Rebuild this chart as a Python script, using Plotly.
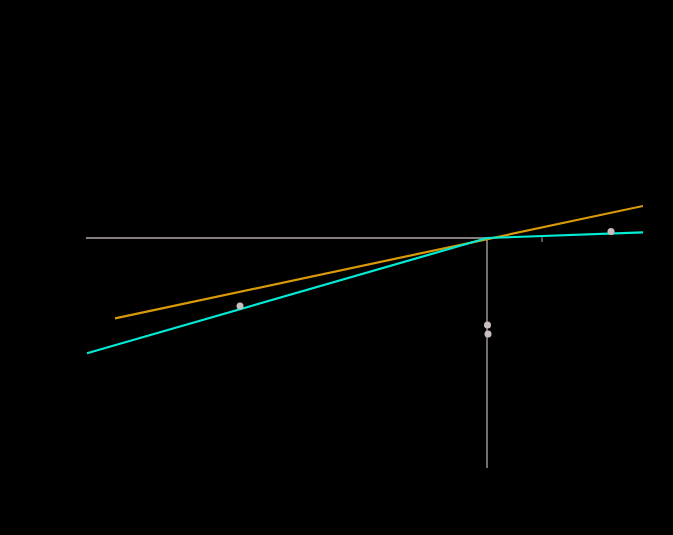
import plotly.graph_objects as go

# Data
orange_x = [-9.3, 3.9]
orange_y = [-2.01, 0.80]

cyan_x = [-10.0, 0.0, 3.9]
cyan_y = [-2.88, 0.0, 0.142]

points_x = [-6.175, 0.0125, 0.025, 3.1]
points_y = [-1.70, -2.175, -2.40, 0.1625]

ref_h_x = [-10.05, 0.0]
ref_h_y = [0.0, 0.0]
ref_v_x = [0.0, 0.0]
ref_v_y = [0.0, -5.75]

err_x = [1.375, 1.375]
err_y = [0.02, -0.10]

x_range = [-10.025, 3.9]
y_range = [-5.75, 4.95]

gray = "#b5a9a9"

fig = go.Figure()
fig.add_trace(go.Scatter(x=ref_h_x, y=ref_h_y, mode="lines",
                         line=dict(color=gray, width=1.3), hoverinfo="skip"))
fig.add_trace(go.Scatter(x=ref_v_x, y=ref_v_y, mode="lines",
                         line=dict(color=gray, width=1.3), hoverinfo="skip"))
fig.add_trace(go.Scatter(x=err_x, y=err_y, mode="lines",
                         line=dict(color="#8a8080", width=1.3), hoverinfo="skip"))
fig.add_trace(go.Scatter(x=orange_x, y=orange_y, mode="lines",
                         line=dict(color="#d99a08", width=2.2)))
fig.add_trace(go.Scatter(x=cyan_x, y=cyan_y, mode="lines",
                         line=dict(color="#00ecd6", width=2.2)))
fig.add_trace(go.Scatter(x=points_x, y=points_y, mode="markers",
                         marker=dict(color="#c9bfbf", size=7)))

fig.update_layout(
    width=673, height=535,
    paper_bgcolor="black", plot_bgcolor="black",
    showlegend=False,
    margin=dict(l=86, r=30, t=40, b=67),
    xaxis=dict(range=x_range, showgrid=False, zeroline=False, showticklabels=False,
               showline=False, ticks=""),
    yaxis=dict(range=y_range, showgrid=False, zeroline=False, showticklabels=False,
               showline=False, ticks=""),
)

fig.write_html(
    "out.html",
    config={"displayModeBar": False},
    post_script="document.body.style.margin='0';document.body.style.padding='0';"
                "document.body.style.background='black';"
                "document.documentElement.style.background='black';",
)
